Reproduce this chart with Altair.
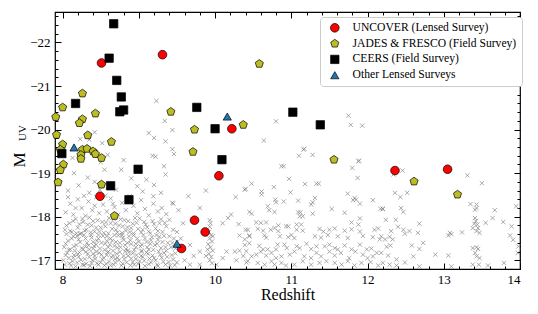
import altair as alt
import pandas as pd

# ---------------- survey samples (redshift, M_UV) ----------------
uncover_z = [8.51, 9.31, 10.22, 10.05, 8.49, 9.73, 9.87, 9.56, 12.36, 13.05]
uncover_m = [-21.53, -21.72, -20.02, -18.94, -18.47, -17.92, -17.65, -17.27, -19.06, -19.09]

jades_z = [10.58, 8.26, 8.00, 8.43, 8.26, 8.22, 9.42, 10.37, 9.73, 7.92, 8.33, 8.64, 8.00, 9.71, 7.97, 8.26,
           8.32, 8.40, 8.43, 8.51, 8.24, 8.24, 8.01, 7.97, 7.94, 8.51, 8.68, 11.56, 12.61, 13.18, 7.91]
jades_m = [-21.51, -20.83, -20.51, -20.37, -20.24, -20.15, -20.41, -20.11, -20.00, -19.88, -19.87, -19.72, -19.66,
           -19.49, -19.54, -19.54, -19.56, -19.50, -19.44, -19.35, -19.42, -19.33, -19.20, -19.07, -18.79, -18.74,
           -18.02, -19.31, -18.81, -18.51, -20.29]

ceers_z = [8.67, 8.61, 8.71, 8.77, 8.17, 8.80, 8.75, 9.76, 10.00, 7.99, 11.02, 11.38, 10.09, 8.99, 8.63, 8.87]
ceers_m = [-22.43, -21.64, -21.13, -20.75, -20.60, -20.45, -20.41, -20.51, -20.02, -19.45, -20.40, -20.11,
           -19.31, -19.09, -18.71, -18.39]

other_z = [10.16, 8.15, 9.50]
other_m = [-20.30, -19.59, -17.38]

# ---------------- background sample (grey crosses), (z, M_UV) ----------------
bg_low = [(8.03,-16.9),(8.08,-17.05),(8.11,-16.88),(8.15,-17.12),(8.19,-16.95),(8.22,-17.18),(8.26,-16.9),
          (8.29,-17.03),(8.33,-17.15),(8.36,-16.87),(8.39,-17.0),(8.42,-17.1),(8.45,-16.93),(8.48,-17.17),
          (8.52,-17.02),(8.55,-16.88),(8.58,-17.12),(8.61,-16.97),(8.64,-17.07),(8.67,-16.9),(8.71,-17.15),
          (8.74,-17.0),(8.77,-16.88),(8.8,-17.1),(8.84,-16.95),(8.87,-17.18),(8.9,-17.04),(8.94,-16.9),
          (8.97,-17.12),(9.01,-16.98),(9.05,-17.08),(9.08,-16.87),(9.12,-17.15),(9.16,-16.95),(9.2,-17.05),
          (9.24,-16.9),(9.28,-17.13),(9.32,-16.97),(9.37,-17.08),(9.41,-16.88),(9.45,-17.02),(9.48,-17.16),
          (8.06,-17.17),(8.13,-16.98),(8.21,-17.08),(8.31,-16.92),(8.44,-17.2),(8.5,-16.95),(8.6,-17.2),
          (8.69,-17.03),(8.82,-17.2),(8.92,-16.96),(9.03,-17.2),(9.14,-17.04),(9.26,-17.2),(9.35,-16.9),(9.5,-16.95),
          (8.01,-17.0),(8.04,-17.12),(8.09,-16.93),(8.14,-17.06),(8.17,-16.86),(8.2,-17.14),(8.24,-17.01),
          (8.28,-16.89),(8.3,-17.19),(8.35,-17.07),(8.38,-16.94),(8.4,-17.15),(8.43,-17.03),(8.47,-16.9),
          (8.51,-17.13),(8.54,-17.05),(8.57,-16.92),(8.59,-17.18),(8.63,-16.88),(8.66,-17.11),(8.69,-16.95),
          (8.72,-17.06),(8.75,-17.19),(8.79,-16.92),(8.81,-17.03),(8.86,-17.1),(8.89,-16.88),(8.92,-17.16),
          (8.96,-17.03),(8.99,-16.92),(9.03,-17.1),(9.07,-16.99),(9.1,-17.18),(9.13,-16.91),(9.18,-17.11),
          (9.22,-17.0),(9.25,-16.87),(9.3,-17.06),(9.33,-17.17),(9.39,-16.96),(9.43,-17.12),(9.47,-16.89)]

bg_mid = [(8.02,-17.3),(8.07,-17.45),(8.1,-17.25),(8.14,-17.55),(8.18,-17.35),(8.21,-17.48),(8.25,-17.28),
          (8.28,-17.58),(8.32,-17.4),(8.35,-17.25),(8.38,-17.52),(8.41,-17.33),(8.45,-17.45),(8.49,-17.27),
          (8.53,-17.56),(8.56,-17.38),(8.6,-17.3),(8.63,-17.5),(8.66,-17.22),(8.7,-17.42),(8.73,-17.57),
          (8.76,-17.3),(8.8,-17.47),(8.83,-17.26),(8.87,-17.55),(8.9,-17.37),(8.94,-17.24),(8.98,-17.5),
          (9.02,-17.32),(9.06,-17.58),(9.1,-17.42),(9.13,-17.25),(9.17,-17.53),(9.21,-17.35),(9.25,-17.47),
          (9.29,-17.28),(9.33,-17.56),(9.38,-17.4),(9.42,-17.3),(9.46,-17.5),(8.05,-17.6),(8.16,-17.22),
          (8.23,-17.6),(8.3,-17.32),(8.4,-17.42),(8.47,-17.58),(8.58,-17.45),(8.68,-17.33),(8.78,-17.58),
          (8.85,-17.4),(8.96,-17.38),(9.04,-17.22),(9.15,-17.38),(9.23,-17.58),(9.36,-17.22),
          (8.04,-17.38),(8.08,-17.24),(8.12,-17.5),(8.15,-17.32),(8.19,-17.56),(8.23,-17.42),(8.27,-17.25),
          (8.3,-17.5),(8.34,-17.34),(8.37,-17.58),(8.4,-17.27),(8.44,-17.36),(8.47,-17.5),(8.51,-17.4),
          (8.55,-17.24),(8.58,-17.55),(8.62,-17.36),(8.65,-17.45),(8.68,-17.58),(8.72,-17.29),(8.75,-17.4),
          (8.79,-17.52),(8.82,-17.35),(8.86,-17.23),(8.89,-17.46),(8.93,-17.57),(8.96,-17.3),(9.0,-17.43),
          (9.04,-17.36),(9.08,-17.5),(9.11,-17.3),(9.16,-17.46),(9.19,-17.24),(9.24,-17.38),(9.27,-17.54),
          (9.31,-17.42),(9.35,-17.3),(9.4,-17.55),(9.44,-17.4),(9.48,-17.27)]

bg_high = [(8.03,-17.7),(8.09,-17.85),(8.12,-17.65),(8.17,-17.95),(8.2,-17.75),(8.24,-17.62),(8.27,-17.88),
           (8.31,-17.7),(8.35,-17.98),(8.38,-17.8),(8.42,-17.66),(8.46,-17.92),(8.5,-17.75),(8.54,-17.63),
           (8.57,-17.87),(8.61,-17.97),(8.65,-17.72),(8.69,-17.84),(8.72,-17.64),(8.76,-17.94),(8.79,-17.78),
           (8.83,-17.68),(8.86,-17.9),(8.9,-17.74),(8.93,-17.62),(8.97,-17.86),(9.01,-17.96),(9.05,-17.7),
           (9.09,-17.82),(9.13,-17.66),(9.18,-17.9),(9.22,-17.73),(9.27,-17.85),(9.31,-17.65),(9.36,-17.78),
           (9.4,-17.93),(9.45,-17.7),(8.05,-17.8),(8.1,-17.67),(8.14,-17.9),(8.18,-17.62),(8.22,-17.83),
           (8.26,-17.95),(8.29,-17.68),(8.33,-17.82),(8.37,-17.64),(8.4,-17.9),(8.44,-17.75),(8.48,-17.66),
           (8.52,-17.88),(8.56,-17.78),(8.6,-17.62),(8.63,-17.85),(8.67,-17.95),(8.7,-17.7),(8.74,-17.8),
           (8.78,-17.63),(8.81,-17.92),(8.85,-17.76),(8.88,-17.65),(8.92,-17.84),(8.95,-17.97),(8.99,-17.72),
           (9.03,-17.64),(9.07,-17.88),(9.11,-17.76),(9.15,-17.62),(9.2,-17.83),(9.25,-17.67),(9.29,-17.94),
           (9.34,-17.86)]

bg_upper_left = [(8.04,-18.1),(8.1,-18.3),(8.14,-18.05),(8.2,-18.4),(8.25,-18.2),(8.3,-18.02),(8.34,-18.35),
                 (8.39,-18.15),(8.44,-18.45),(8.48,-18.08),(8.53,-18.28),(8.58,-18.12),(8.63,-18.42),(8.68,-18.22),
                 (8.73,-18.05),(8.78,-18.32),(8.83,-18.15),(8.88,-18.47),(8.93,-18.25),(8.98,-18.08),(9.03,-18.38),
                 (9.08,-18.18),(9.13,-18.03),(9.19,-18.3),(9.25,-18.12),(9.3,-18.2),(9.36,-18.06),(9.44,-18.32),
                 (9.52,-18.15),(8.07,-18.45),(8.17,-18.2),(8.28,-18.48),(8.42,-18.25),(8.56,-18.48),(8.66,-18.3),
                 (8.07,-18.6),(8.33,-18.9),(8.21,-18.72),(8.42,-18.8),(8.55,-19.08),(8.77,-19.08),(8.9,-18.88),
                 (9.1,-18.85),(9.2,-18.73),(9.05,-18.58),(8.7,-18.62),(8.35,-18.55),(8.49,-18.62),(9.29,-18.55),
                 (9.19,-18.47),(9.33,-19.16),(9.35,-18.97),(8.15,-19.0),(8.62,-18.75),(8.98,-18.7),(9.45,-18.3),
                 (9.23,-20.66),(9.34,-20.2),(9.44,-19.99),(9.13,-19.92),(9.2,-19.81),(9.35,-19.73),(9.44,-19.55),
                 (9.46,-19.44),(9.18,-19.4),(9.22,-19.38),(8.42,-19.94),(8.23,-19.78),(8.35,-19.77),(8.52,-19.69),
                 (8.59,-19.42),(8.13,-19.35),(8.8,-19.3),(8.5,-19.25)]

bg_z10 = [(9.65,-18.47),(9.8,-18.2),(9.88,-18.6),(10.27,-18.45),(10.4,-18.64),(9.93,-17.92),(9.94,-17.85),
          (9.93,-17.77),(10.1,-17.85),(10.17,-17.97),(10.21,-18.05),(10.31,-17.83),(10.4,-17.7),(10.32,-17.57),
          (10.45,-17.57),(10.39,-17.48),(9.92,-17.65),(9.95,-17.58),(9.93,-17.5),(9.96,-17.43),(9.91,-17.37),
          (9.94,-17.3),(9.97,-17.22),(9.92,-17.15),(9.95,-17.08),(9.93,-17.0),(9.96,-16.93),(9.9,-17.25),
          (9.97,-17.55),(9.67,-17.35),(9.8,-17.2),(9.88,-17.1),(9.67,-16.9),(9.8,-16.9),(10.02,-16.9),
          (10.15,-17.2),(10.26,-17.2),(10.32,-17.22),(10.37,-17.1),(10.41,-16.95),(10.28,-17.0),(10.1,-17.05),
          (9.6,-17.0),(9.72,-17.1),(9.55,-17.5),(9.5,-17.65),(9.58,-17.85),(10.8,-20.19),(10.64,-19.75)]

bg_z11 = [(11.1,-19.4),(11.28,-19.42),(11.16,-19.54),(10.87,-19.16),(10.9,-19.16),(11.88,-19.27),(11.8,-19.12),
          (10.97,-18.87),(11.87,-18.89),(10.48,-18.76),(10.77,-18.68),(11.18,-18.75),(11.33,-18.76),(11.36,-18.76),
          (10.39,-18.62),(10.61,-18.58),(10.61,-18.51),(10.99,-18.56),(11.74,-18.53),(11.83,-18.43),(11.85,-18.39),
          (11.81,-18.38),(11.9,-18.3),(12.07,-18.38),(10.79,-18.39),(10.8,-18.33),(10.9,-18.35),(11.09,-18.37),
          (11.31,-18.43),(11.28,-18.33),(11.26,-18.28),(10.69,-18.24),(10.71,-18.15),(10.78,-18.11),(11.09,-18.1),
          (11.12,-18.1),(11.11,-18.01),(11.15,-18.01),(11.28,-18.07),(11.53,-18.18),(11.7,-18.09),(10.45,-18.11),
          (10.48,-18.07),(12.17,-18.18),(12.2,-18.18),(10.54,-17.87),(10.6,-17.86),(10.67,-17.87),(10.83,-17.8),
          (10.93,-17.78),(10.96,-17.78),(11.07,-17.82),(11.13,-17.82),(11.79,-17.87),(11.9,-17.96),(11.88,-17.82),
          (10.43,-17.7),(10.56,-17.72),(10.63,-17.68),(10.73,-17.7),(10.78,-17.74),(10.83,-17.67),(11.07,-17.7),
          (11.15,-17.68),(11.37,-17.72),(11.42,-17.66),(11.5,-17.7),(11.57,-17.73),(11.7,-17.68),(11.79,-17.71),
          (11.9,-17.66),(12.09,-17.7),(12.14,-17.73),(10.45,-17.55),(10.65,-17.57),(10.67,-17.52),(10.85,-17.55),
          (10.96,-17.53),(11.0,-17.58),(11.04,-17.51),(11.31,-17.55),(11.39,-17.52),(11.48,-17.58),(11.61,-17.55),
          (11.74,-17.51),(11.94,-17.56),(12.07,-17.53),(12.18,-17.55),(10.39,-17.35),(10.45,-17.39),(10.58,-17.33),
          (10.63,-17.25),(10.69,-17.25),(10.82,-17.36),(10.8,-17.25),(10.91,-17.36),(10.94,-17.28),(11.07,-17.32),
          (11.11,-17.28),(11.2,-17.38),(11.26,-17.26),(11.33,-17.32),(11.44,-17.32),(11.5,-17.36),(11.57,-17.28),
          (11.61,-17.25),(11.7,-17.34),(11.79,-17.25),(11.9,-17.36),(11.99,-17.25),(12.05,-17.27),(10.41,-17.21),
          (10.48,-17.09),(10.54,-17.13),(10.6,-17.2),(10.67,-17.11),(10.74,-17.17),(10.8,-17.05),(10.87,-17.09),
          (10.98,-17.13),(11.04,-17.2),(11.17,-17.09),(11.26,-17.05),(11.33,-17.17),(11.39,-17.09),(11.5,-17.2),
          (11.57,-17.11),(11.65,-17.17),(11.76,-17.05),(11.84,-17.2),(11.94,-17.13),(12.0,-17.05),(12.07,-17.09),
          (12.12,-17.17),(10.43,-16.98),(10.56,-16.94),(10.65,-16.9),(10.74,-16.98),(10.78,-16.9),(10.87,-16.94),
          (10.93,-16.88),(11.04,-16.9),(11.15,-16.98),(11.26,-16.9),(11.37,-16.94),(11.46,-16.98),(11.57,-16.94),
          (11.66,-16.9),(11.74,-16.98),(11.83,-16.88),(11.92,-16.94),(12.04,-16.96),(12.14,-16.88),
          (11.75,-20.32),(11.78,-20.11),(11.93,-20.09),(11.17,-19.56),(11.89,-19.29)]

bg_z13 = [(12.34,-18.97),(12.46,-19.06),(13.31,-18.95),(13.5,-18.77),(12.36,-18.55),(12.43,-18.45),(12.52,-18.55),
          (12.2,-18.18),(12.44,-18.2),(12.47,-18.11),(13.35,-18.29),(13.43,-18.28),(13.43,-18.2),(13.41,-18.16),
          (13.67,-18.15),(13.95,-18.24),(12.24,-17.93),(12.37,-17.93),(13.41,-17.97),(13.42,-17.9),(13.4,-17.84),
          (13.44,-17.82),(13.38,-17.74),(13.45,-17.74),(13.47,-17.63),(13.43,-17.67),(13.55,-17.86),(13.64,-17.97),
          (13.78,-17.88),(13.89,-17.78),(13.87,-17.57),(13.91,-17.47),(13.98,-17.32),(13.97,-17.17),(12.4,-17.77),
          (12.47,-17.7),(12.55,-17.67),(12.49,-17.61),(12.66,-17.63),(12.68,-17.84),(12.73,-17.4),(12.68,-17.26),
          (12.58,-17.34),(12.6,-17.09),(12.49,-16.95),(13.08,-17.63),(13.1,-17.6),(13.24,-17.64),(13.06,-17.57),
          (12.89,-17.13),(13.06,-17.11),(12.16,-17.48),(12.23,-17.48),(12.29,-17.54),(12.31,-17.67),(12.33,-17.48),
          (12.25,-17.31),(12.3,-17.34),(12.18,-17.17),(12.27,-17.11),(12.38,-17.02),(12.2,-16.94),(12.29,-16.9),
          (12.38,-16.88),(13.38,-17.28),(13.43,-17.3),(13.45,-17.26),(13.41,-17.17),(13.43,-17.09),(13.47,-17.05),
          (13.38,-16.9),(13.46,-16.9),(13.79,-16.94),(13.58,-16.88),(13.1,-16.86),(12.68,-16.86)]

SERIES = ["UNCOVER (Lensed Survey)", "JADES & FRESCO (Field Survey)",
          "CEERS (Field Survey)", "Other Lensed Surveys"]
COLORS = ["#ff0000", "#bcbd22", "#000000", "#1f77b4"]
PENTAGON = "M0,-1L0.951,-0.309L0.588,0.809L-0.588,0.809L-0.951,-0.309Z"
XMARK = "M-1,-1L1,1M-1,1L1,-1"
SHAPES = ["circle", PENTAGON, "square", "triangle-up"]
SIZES = [75, 68, 45, 55]

x_major = [8, 9, 10, 11, 12, 13, 14]
y_major = [-17, -18, -19, -20, -21, -22]
x_minor = [round(8 + 0.2 * i, 1) for i in range(31)]
y_minor = [round(-17 - 0.2 * i, 1) for i in range(29)]

FONT = "Liberation Serif"
XDOM = [7.9, 14.0]
YDOM = [-16.8, -22.7]

# ---------------- tables ----------------
frames = []
for name, zs, ms in [(SERIES[0], uncover_z, uncover_m), (SERIES[1], jades_z, jades_m),
                     (SERIES[2], ceers_z, ceers_m), (SERIES[3], other_z, other_m)]:
    frames.append(pd.DataFrame({"z": zs, "m": ms, "survey": name}))
main_df = pd.concat(frames, ignore_index=True)

bg_all = bg_low + bg_mid + bg_high + bg_upper_left + bg_z10 + bg_z11 + bg_z13
bg_df = pd.DataFrame(bg_all, columns=["z", "m"])
tick_df = pd.DataFrame({"z": [8.0], "m": [-17.0]})

xs = alt.Scale(domain=XDOM, nice=False, zero=False)
ys = alt.Scale(domain=YDOM, nice=False, zero=False)


def tick_axis(orient, values, size, **extra):
    return alt.Axis(orient=orient, values=values, labels=False, domain=False, grid=False,
                    ticks=True, tickSize=size, offset=-size, tickColor="black", tickWidth=1,
                    **extra)


bg = alt.Chart(bg_df).mark_point(shape=XMARK, filled=False, size=18, strokeWidth=0.7,
                                 color="#7a7a7a", opacity=0.9).encode(
    x=alt.X("z:Q", scale=xs, axis=alt.Axis(values=x_major, format="d", ticks=False, domain=False,
                                           grid=False, labelFontSize=13, labelPadding=4,
                                           labelColor="black", labelFont=FONT,
                                           title="Redshift", titleFont=FONT, titleFontSize=16,
                                           titleFontWeight="normal", titleColor="black",
                                           titlePadding=0)),
    y=alt.Y("m:Q", scale=ys, axis=alt.Axis(values=y_major, format="d", ticks=False, domain=False,
                                           grid=False, labelFontSize=13, labelPadding=5,
                                           labelColor="black", labelFont=FONT,
                                           title="M", titleFont=FONT, titleFontSize=17,
                                           titleFontWeight="normal", titleColor="black",
                                           titleAngle=270, titleAlign="center",
                                           titleBaseline="middle", titleX=-36, titleY=147.5)),
)

# the subscript "UV" of the y title rides on the left minor-tick axis (offset -3)
uv_title = dict(title="UV", titleFont=FONT, titleFontSize=11, titleFontWeight="normal",
                titleColor="black", titleAngle=270, titleAlign="center", titleBaseline="middle",
                titleX=-35.5, titleY=120.5)

tick_layers = []
for xo, yo, vx, vy, sz, ytitle in [("bottom", "left", x_major, y_major, 6, None),
                                   ("bottom", "left", x_minor, y_minor, 3, uv_title),
                                   ("top", "right", x_major, y_major, 6, None),
                                   ("top", "right", x_minor, y_minor, 3, None)]:
    yextra = ytitle if ytitle else {"title": None}
    tick_layers.append(
        alt.Chart(tick_df).mark_point(opacity=0).encode(
            x=alt.X("z:Q", scale=xs, axis=tick_axis(xo, vx, sz, title=None)),
            y=alt.Y("m:Q", scale=ys, axis=tick_axis(yo, vy, sz, **yextra)),
        )
    )

legend = alt.Legend(title=None, orient="none", legendX=265, legendY=5, labelFont=FONT,
                    labelFontSize=11.6, labelLimit=300, labelColor="black", fillColor="white",
                    strokeColor="#cccccc", cornerRadius=3, padding=5, rowPadding=2.8,
                    symbolOffset=4, labelOffset=12, symbolStrokeColor="black",
                    symbolStrokeWidth=0.7)

main = alt.Chart(main_df).mark_point(filled=True, opacity=1, stroke="black", strokeWidth=0.7).encode(
    x=alt.X("z:Q", scale=xs, axis=None),
    y=alt.Y("m:Q", scale=ys, axis=None),
    color=alt.Color("survey:N", scale=alt.Scale(domain=SERIES, range=COLORS), legend=legend),
    shape=alt.Shape("survey:N", scale=alt.Scale(domain=SERIES, range=SHAPES), legend=legend),
    size=alt.Size("survey:N", scale=alt.Scale(domain=SERIES, range=SIZES), legend=legend),
)

chart = alt.layer(bg, *tick_layers, main).resolve_axis(
    x="independent", y="independent"
).properties(
    width=465, height=257,
    autosize=alt.AutoSizeParams(type="none"),
    padding={"left": 47, "top": 4, "right": 10, "bottom": 37},
).configure(font=FONT).configure_view(stroke="black", strokeWidth=1.2)

chart.save("out.html", embed_options={"renderer": "svg", "actions": False})
